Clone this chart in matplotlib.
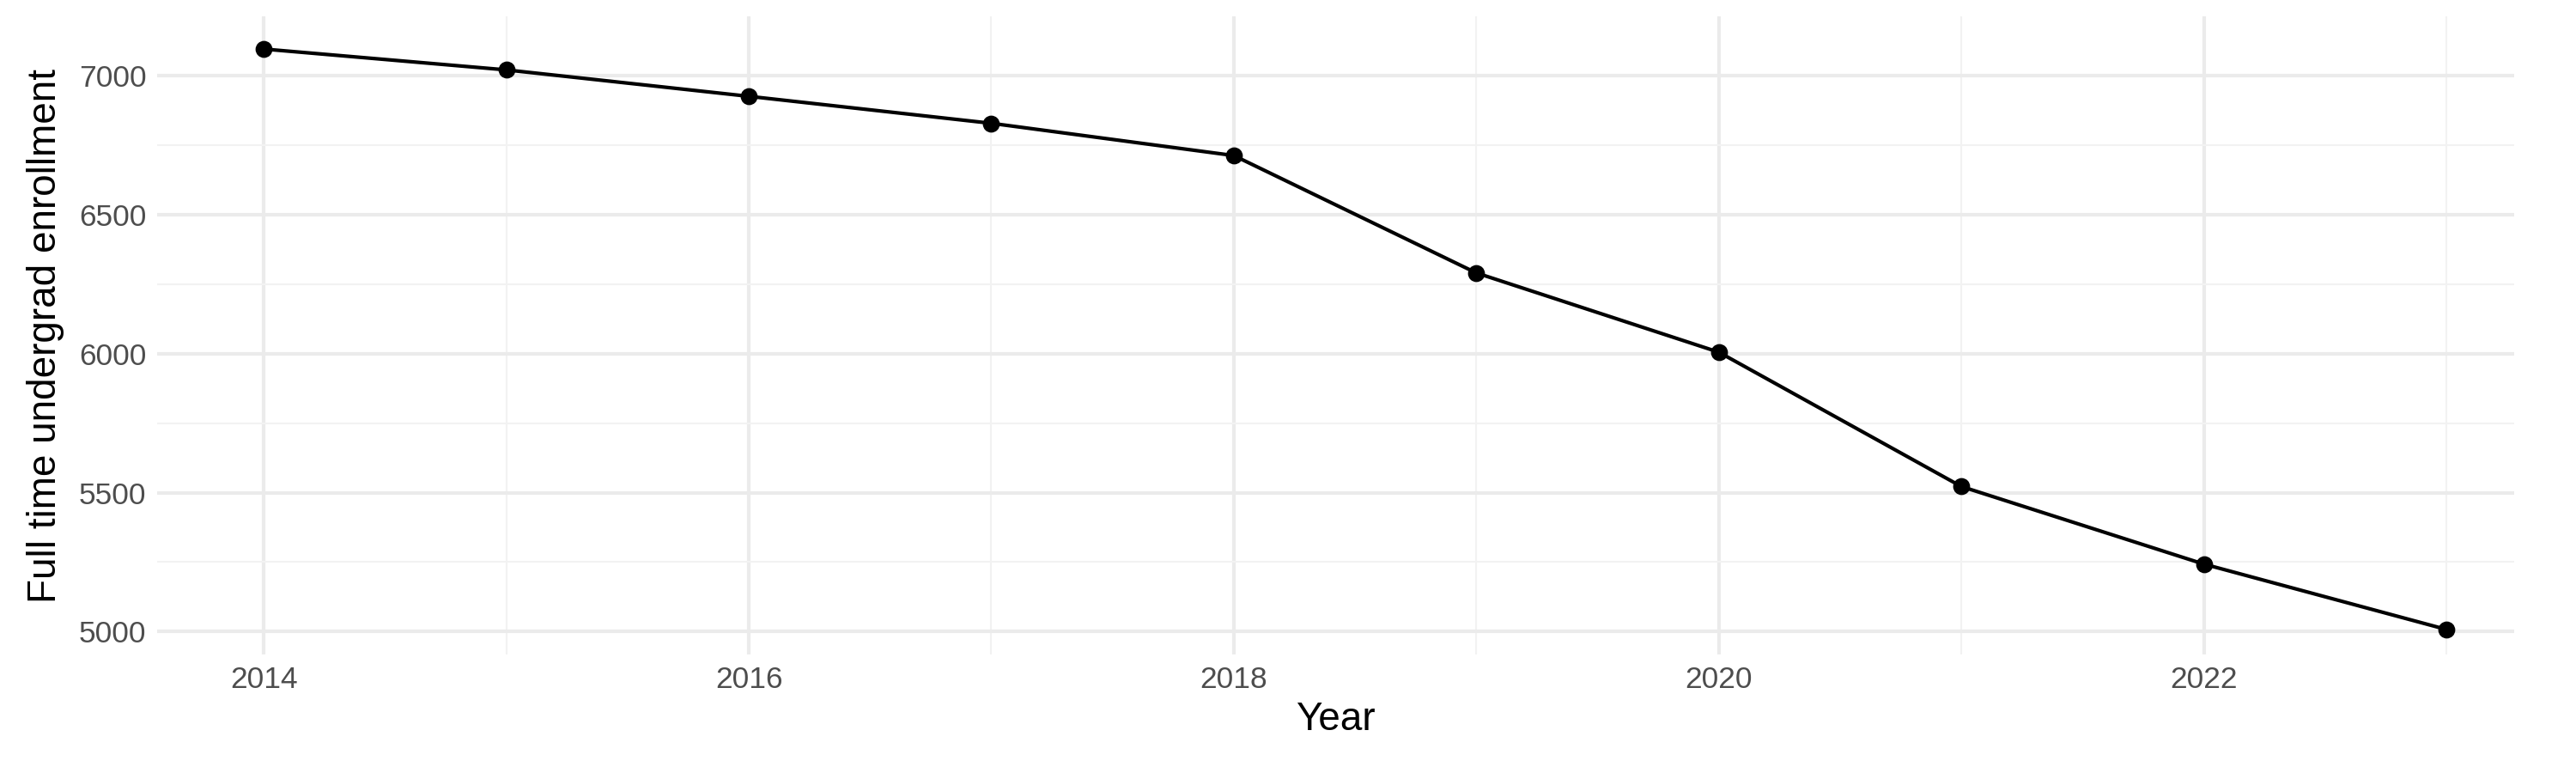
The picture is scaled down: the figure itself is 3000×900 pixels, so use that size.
import matplotlib.pyplot as plt
import numpy as np

# Enrollment data
years = [2014, 2015, 2016, 2017, 2018, 2019, 2020, 2021, 2022, 2023]
enrollment = [7095, 7020, 6925, 6828, 6712, 6290, 6005, 5522, 5243, 5008]

plt.rcParams['font.family'] = ['Liberation Sans', 'DejaVu Sans']

fig, ax = plt.subplots(figsize=(10, 3), dpi=300)
fig.subplots_adjust(left=0.061, right=0.976, top=0.979, bottom=0.153)

ax.plot(years, enrollment, color='black', linewidth=1.0, zorder=3)
ax.scatter(years, enrollment, color='black', s=14, zorder=4)

ax.set_xlim(2013.56, 2023.28)
ax.set_ylim(4917, 7213)
ax.set_xticks([2014, 2016, 2018, 2020, 2022])
ax.set_xticks(np.arange(2015, 2024, 2), minor=True)
ax.set_yticks([5000, 5500, 6000, 6500, 7000])
ax.set_yticks([5250, 5750, 6250, 6750], minor=True)

ax.grid(which='major', color='#ebebeb', linewidth=1.0)
ax.grid(which='minor', color='#f2f2f2', linewidth=0.5)
ax.set_axisbelow(True)
for s in ax.spines.values():
    s.set_visible(False)
ax.tick_params(which='both', length=0, labelsize=8.5, labelcolor='#4d4d4d', pad=3)

ax.set_xlabel('Year', fontsize=11, labelpad=2)
ax.set_ylabel('Full time undergrad enrollment', fontsize=11, labelpad=4)

plt.savefig('out.png', dpi=300)
